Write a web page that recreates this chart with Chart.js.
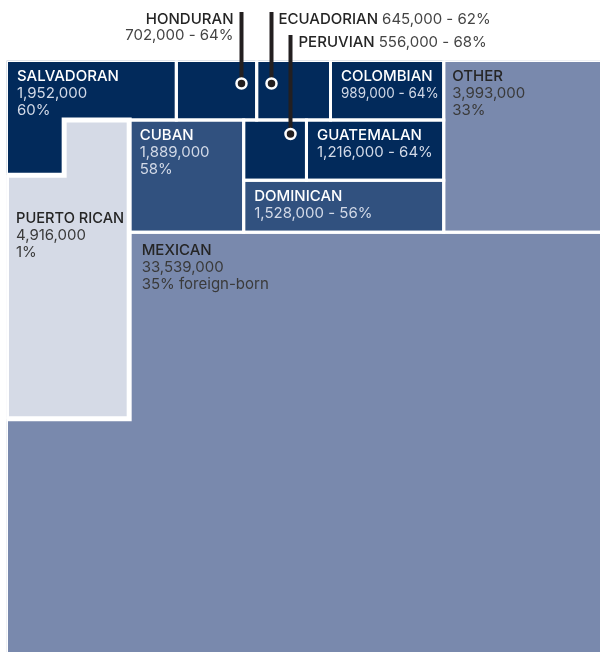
<!DOCTYPE html>
<html>
<head>
<meta charset="utf-8">
<title>Hispanic origin groups</title>
<style>
  html, body { margin: 0; padding: 0; background: #fff; overflow: hidden; }
  #treemap { display: block; }
</style>
</head>
<body>
<canvas id="treemap" width="602" height="654"></canvas>

<script src="https://cdn.jsdelivr.net/npm/chart.js@4/dist/chart.umd.min.js"></script>
<script>

// origin groups, population and share foreign-born (%)
var groups = ['SALVADORAN', 'HONDURAN', 'ECUADORIAN', 'COLOMBIAN', 'OTHER', 'CUBAN',
              'PERUVIAN', 'GUATEMALAN', 'DOMINICAN', 'PUERTO RICAN', 'MEXICAN'];
var population = [1952000, 702000, 645000, 989000, 3993000, 1889000,
                  556000, 1216000, 1528000, 4916000, 33539000];
var foreignBorn = [60, 64, 62, 64, 33, 58, 68, 64, 56, 1, 35];

var DARK = '#022a5b', MID = '#31517f', LIGHT = '#7989ad', PALE = '#d5dae6';
var fillOf = {
    'SALVADORAN': DARK, 'HONDURAN': DARK, 'ECUADORIAN': DARK, 'COLOMBIAN': DARK,
    'OTHER': LIGHT, 'CUBAN': MID, 'PERUVIAN': DARK, 'GUATEMALAN': DARK,
    'DOMINICAN': MID, 'PUERTO RICAN': PALE, 'MEXICAN': LIGHT
};

// layout knobs (area of every cell = its population)
var ASPECT = 595.5 / 593.5;   // plot width / height
var LEFT_SHARE = 0.206;       // left column width, share of total width
var NOTCH_SHARE = 0.24;       // part of salvadoran hanging into the left column
var NOTCH_WIDTH = 0.47;       // that notch's width, share of left column

function fmt(n) { return n.toLocaleString('en-US'); }

function treemap()
{
    var v = {}, total = 0;
    for (var i = 0; i < groups.length; ++i) {
        v[groups[i]] = population[i] / 1000;
        total += v[groups[i]];
    }
    var W = Math.sqrt(total * ASPECT), H = total / W;
    var wL = W * LEFT_SHARE;
    var notch = v['SALVADORAN'] * NOTCH_SHARE;
    var rowA = v['SALVADORAN'] - notch + v['HONDURAN'] + v['ECUADORIAN'] + v['COLOMBIAN'];
    var rowB = v['CUBAN'] + v['PERUVIAN'] + v['GUATEMALAN'] + v['DOMINICAN'];

    // top band height hT so that row A, row B and OTHER all fit
    function hAof(hT) { return rowA / (W - v['OTHER'] / hT); }
    function f(hT) { return rowB / (hT - hAof(hT)) + v['OTHER'] / hT + wL - W; }
    var lo = H * 0.22, hi = H * 0.6;
    for (var n = 0; n < 60; ++n) {
        var m = (lo + hi) / 2;
        if (f(m) > 0) lo = m; else hi = m;
    }
    var hT = (lo + hi) / 2, hA = hAof(hT), hB = hT - hA;
    var xO = W - v['OTHER'] / hT;

    function rect(x0, y0, x1, y1) { return [[x0, y0], [x1, y0], [x1, y1], [x0, y1]]; }

    var cells = {};
    // row A
    var sT = (v['SALVADORAN'] - notch) / hA;
    var xH = sT + v['HONDURAN'] / hA;
    var xE = xH + v['ECUADORIAN'] / hA;
    var nW = wL * NOTCH_WIDTH, nH = notch / nW;
    cells['SALVADORAN'] = [[0, 0], [sT, 0], [sT, hA], [nW, hA], [nW, hA + nH], [0, hA + nH]];
    cells['HONDURAN'] = rect(sT, 0, xH, hA);
    cells['ECUADORIAN'] = rect(xH, 0, xE, hA);
    cells['COLOMBIAN'] = rect(xE, 0, xO, hA);
    cells['OTHER'] = rect(xO, 0, W, hT);
    // row B
    var xC = wL + v['CUBAN'] / hB;
    var h1 = (v['PERUVIAN'] + v['GUATEMALAN']) / (xO - xC);
    var xP = xC + v['PERUVIAN'] / h1;
    cells['CUBAN'] = rect(wL, hA, xC, hT);
    cells['PERUVIAN'] = rect(xC, hA, xP, hA + h1);
    cells['GUATEMALAN'] = rect(xP, hA, xO, hA + h1);
    cells['DOMINICAN'] = rect(xC, hA + h1, xO, hT);
    // left column and the rest
    var yP = hA + (v['PUERTO RICAN'] + notch) / wL;
    cells['PUERTO RICAN'] = [[nW, hA], [wL, hA], [wL, yP], [0, yP], [0, hA + nH], [nW, hA + nH]];
    cells['MEXICAN'] = [[wL, hT], [W, hT], [W, H], [0, H], [0, yP], [wL, yP]];

    return {W: W, H: H, cells: cells,
            anchor: {'PUERTO RICAN': [0, hA + nH], 'MEXICAN': [wL, hT], 'SALVADORAN': [0, 0]}};
}

var tm = treemap();

var datasets = [];
for (var i = 0; i < groups.length; ++i) {
    var poly = tm.cells[groups[i]];
    var pts = poly.concat([poly[0]]).map(function (p) { return {x: p[0], y: p[1]}; });
    datasets.push({
        label: groups[i],
        data: pts,
        showLine: true,
        fill: 'shape',
        backgroundColor: fillOf[groups[i]],
        borderColor: '#ffffff',
        borderWidth: groups[i] == 'PUERTO RICAN' ? 5 : 3,
        borderJoinStyle: 'miter',
        borderCapStyle: 'square',
        pointRadius: 0,
        pointHoverRadius: 0
    });
}

var threeLine = ['SALVADORAN', 'OTHER', 'CUBAN', 'PUERTO RICAN', 'MEXICAN'];
var twoLine = ['COLOMBIAN', 'GUATEMALAN', 'DOMINICAN'];

var cellLabels = {
    id: 'cellLabels',
    afterDatasetsDraw: function (chart) {
        var ctx = chart.ctx, sx = chart.scales.x, sy = chart.scales.y;
        ctx.save();
        ctx.textBaseline = 'alphabetic';

        function box(g) {
            var p = tm.cells[g];
            return {l: sx.getPixelForValue(p[0][0]), t: sy.getPixelForValue(p[0][1]),
                    r: sx.getPixelForValue(p[1][0]), b: sy.getPixelForValue(p[2][1])};
        }

        for (var i = 0; i < groups.length; ++i) {
            var g = groups[i];
            var dark = (fillOf[g] == DARK || fillOf[g] == MID);
            var nameCol = dark ? '#ffffff' : '#252525';
            var numCol = dark ? '#d2d9e7' : '#3a3a3a';
            var a = tm.anchor[g] || tm.cells[g][0];
            var x = sx.getPixelForValue(a[0]) + 1.5 + 9;
            var y = sy.getPixelForValue(a[1]) + 1.5 + 19;
            if (g == 'OTHER') x -= 2;
            if (g == 'PUERTO RICAN') { x -= 1; y += 27; }
            if (g == 'MEXICAN') { x += 2; y += 2; }
            var room = sx.getPixelForValue(tm.cells[g][1][0]) - 5 - x;

            var lines = null;
            if (threeLine.indexOf(g) >= 0) {
                lines = [g, fmt(population[i]),
                         foreignBorn[i] + (g == 'MEXICAN' ? '% foreign-born' : '%')];
            } else if (twoLine.indexOf(g) >= 0) {
                lines = [g, fmt(population[i]) + ' - ' + foreignBorn[i] + '%'];
            }
            if (lines) {
                for (var k = 0; k < lines.length; ++k) {
                    ctx.font = (k == 0 ? '500 ' : '400 ') + '15px Inter';
                    ctx.fillStyle = k == 0 ? nameCol : numCol;
                    ctx.fillText(lines[k], x, y + k * 17, room);
                }
            }
        }

        // call-outs for the small groups
        function callout(g, cx, cy, topY) {
            ctx.strokeStyle = '#231f20';
            ctx.lineWidth = 4;
            ctx.beginPath();
            ctx.moveTo(cx, topY);
            ctx.lineTo(cx, cy);
            ctx.stroke();
            ctx.beginPath();
            ctx.arc(cx, cy, 5, 0, 2 * Math.PI);
            ctx.fillStyle = '#231f20';
            ctx.fill();
            ctx.lineWidth = 2.5;
            ctx.strokeStyle = '#ffffff';
            ctx.stroke();
        }
        function idx(g) { return groups.indexOf(g); }

        var hb = box('HONDURAN');
        var hx = Math.round(hb.r - 16) + 0.5;
        callout('HONDURAN', hx, hb.t + 23, 12);
        ctx.textAlign = 'right';
        ctx.font = '500 15px Inter';
        ctx.fillStyle = '#252525';
        ctx.fillText('HONDURAN', hx - 8, 24);
        ctx.font = '400 15px Inter';
        ctx.fillStyle = '#444444';
        ctx.fillText(fmt(population[idx('HONDURAN')]) + ' - ' + foreignBorn[idx('HONDURAN')] + '%', hx - 8, 40);

        ctx.textAlign = 'left';
        var eb = box('ECUADORIAN');
        var ex = Math.round(eb.l + 14) + 0.5;
        callout('ECUADORIAN', ex, eb.t + 23, 12);
        ctx.font = '500 15px Inter';
        ctx.fillStyle = '#252525';
        ctx.fillText('ECUADORIAN', ex + 7, 24);
        var w = ctx.measureText('ECUADORIAN ').width;
        ctx.font = '400 15px Inter';
        ctx.fillStyle = '#444444';
        ctx.fillText(fmt(population[idx('ECUADORIAN')]) + ' - ' + foreignBorn[idx('ECUADORIAN')] + '%', ex + 7 + w, 24);

        var pb = box('PERUVIAN');
        var px = Math.round(pb.l + 46) + 0.5;
        callout('PERUVIAN', px, pb.t + 14, 35);
        ctx.font = '500 15px Inter';
        ctx.fillStyle = '#252525';
        ctx.fillText('PERUVIAN', px + 8, 47);
        w = ctx.measureText('PERUVIAN ').width;
        ctx.font = '400 15px Inter';
        ctx.fillStyle = '#444444';
        ctx.fillText(fmt(population[idx('PERUVIAN')]) + ' - ' + foreignBorn[idx('PERUVIAN')] + '%', px + 8 + w, 47);

        ctx.restore();
    }
};

var ctx = document.getElementById('treemap').getContext('2d');
var chart = new Chart(ctx, {
    type: 'scatter',
    data: { datasets: datasets },
    options: {
        responsive: false,
        animation: false,
        events: [],
        layout: { padding: { left: 6.5, top: 60.5, right: 0, bottom: 0 } },
        scales: {
            x: { type: 'linear', min: 0, max: tm.W, display: false },
            y: { type: 'linear', min: 0, max: tm.H, reverse: true, display: false }
        },
        elements: { line: { tension: 0 } },
        plugins: {
            legend: { display: false },
            tooltip: { enabled: false },
            filler: { drawTime: 'beforeDatasetsDraw' }
        }
    },
    plugins: [cellLabels]
});

</script>
</body>
</html>
